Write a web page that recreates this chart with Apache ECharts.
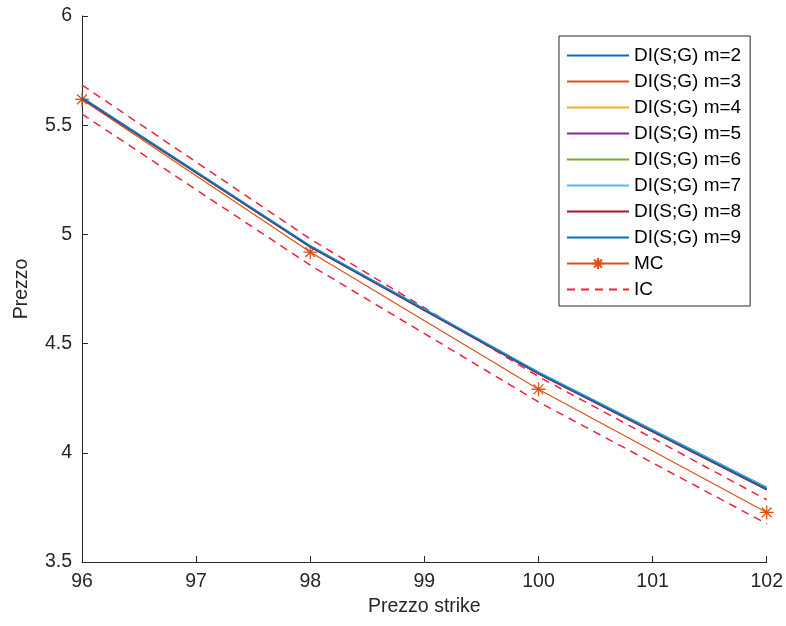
<!DOCTYPE html>
<html>
<head>
<meta charset="utf-8">
<script src="https://cdn.jsdelivr.net/npm/echarts@6/dist/echarts.min.js"></script>
<style>html,body{margin:0;padding:0;background:#fff}#c{width:786px;height:626px}</style>
</head>
<body>
<div id="c"></div>
<script>
const strikes = [96, 98, 100, 102];
const diM2 = [5.627, 4.948, 4.369, 3.841];
const diM3 = [5.622, 4.942, 4.362, 3.830];
const diM4 = [5.624, 4.944, 4.364, 3.834];
const diM5 = [5.623, 4.943, 4.363, 3.832];
const diM6 = [5.625, 4.946, 4.366, 3.837];
const diM7 = [5.626, 4.947, 4.368, 3.839];
const diM8 = [5.623, 4.944, 4.363, 3.833];
const diM9 = [5.625, 4.945, 4.365, 3.835];
const mcPrice = [5.618, 4.919, 4.291, 3.727];
const icUpper = [5.684, 4.979, 4.349, 3.785];
const icLower = [5.551, 4.859, 4.233, 3.675];
const xTicks = [96, 97, 98, 99, 100, 101, 102];
const yTicks = [3.5, 4, 4.5, 5, 5.5, 6];

const diSeries = [
  ['DI(S;G) m=2', diM2, '#0072BD'],
  ['DI(S;G) m=3', diM3, '#D95319'],
  ['DI(S;G) m=4', diM4, '#EDB120'],
  ['DI(S;G) m=5', diM5, '#7E2F8E'],
  ['DI(S;G) m=6', diM6, '#77AC30'],
  ['DI(S;G) m=7', diM7, '#4DBEEE'],
  ['DI(S;G) m=8', diM8, '#A2142F'],
  ['DI(S;G) m=9', diM9, '#0072BD']
];
const pair = arr => strikes.map((x, i) => [x, arr[i]]);
const font = 'Liberation Sans, Arial, Helvetica, sans-serif';
const axisCol = '#262626';
const icCol = '#F0203A';
const mcCol = '#D95319';
const starPath = 'path://M0,-10L0,10M-10,0L10,0M-7,-7L7,7M-7,7L7,-7';

const series = diSeries.map(([name, vals, col]) => ({
  name, type: 'line', data: pair(vals), symbol: 'none',
  lineStyle: { color: col, width: 1.5 }, itemStyle: { color: col },
  animation: false, z: 3
}));
series.push({
  name: 'MC', type: 'line', data: pair(mcPrice),
  symbol: starPath, symbolSize: 14, showAllSymbol: true,
  lineStyle: { color: mcCol, width: 1.2 },
  itemStyle: { color: 'rgba(0,0,0,0)', borderColor: mcCol, borderWidth: 1.3 },
  animation: false, z: 2
});
const icStyle = { color: icCol, width: 1.5, type: [8, 6] };
series.push({
  name: 'IC', type: 'line', data: pair(icUpper), symbol: 'none',
  lineStyle: icStyle, itemStyle: { color: icCol }, animation: false, z: 1
});
series.push({
  name: 'IC', type: 'line', data: pair(icLower), symbol: 'none',
  lineStyle: icStyle, itemStyle: { color: icCol }, animation: false, z: 1
});

const legendData = diSeries.map(d => ({ name: d[0], itemStyle: { opacity: 0 } }))
  .concat([{ name: 'MC' }, { name: 'IC', itemStyle: { opacity: 0 } }]);

const chart = echarts.init(document.getElementById('c'));
chart.setOption({
  backgroundColor: '#fff',
  animation: false,
  textStyle: { fontFamily: font },
  grid: { left: 82, right: 16, top: 16, bottom: 64 },
  xAxis: {
    type: 'value', min: 96, max: 102, interval: 1,
    name: 'Prezzo strike', nameLocation: 'middle', nameGap: 34,
    nameTextStyle: { fontSize: 19.5, color: axisCol, fontFamily: font },
    axisLine: { lineStyle: { color: axisCol, width: 1 } },
    axisTick: { inside: true, length: 6, lineStyle: { color: axisCol } },
    axisLabel: { fontSize: 19.5, color: axisCol, margin: 10, fontFamily: font,
      formatter: v => xTicks.includes(v) ? String(v) : '' },
    splitLine: { show: false }
  },
  yAxis: {
    type: 'value', min: 3.5, max: 6, interval: 0.5,
    name: 'Prezzo', nameLocation: 'middle', nameGap: 50,
    nameTextStyle: { fontSize: 19.5, color: axisCol, fontFamily: font },
    axisLine: { show: true, lineStyle: { color: axisCol, width: 1 } },
    axisTick: { show: true, inside: true, length: 6, lineStyle: { color: axisCol } },
    axisLabel: { fontSize: 19.5, color: axisCol, margin: 10, fontFamily: font,
      formatter: v => yTicks.includes(v) ? String(v) : '' },
    splitLine: { show: false }
  },
  legend: {
    orient: 'vertical', left: 559, top: 36,
    data: legendData,
    itemWidth: 62, itemHeight: 14, itemGap: 7.0,
    padding: [10, 9, 7, 7],
    borderColor: axisCol, borderWidth: 1, backgroundColor: '#fff',
    textStyle: { fontSize: 19, color: '#000', fontFamily: font },
    selectedMode: false
  },
  series
});
</script>
</body>
</html>
